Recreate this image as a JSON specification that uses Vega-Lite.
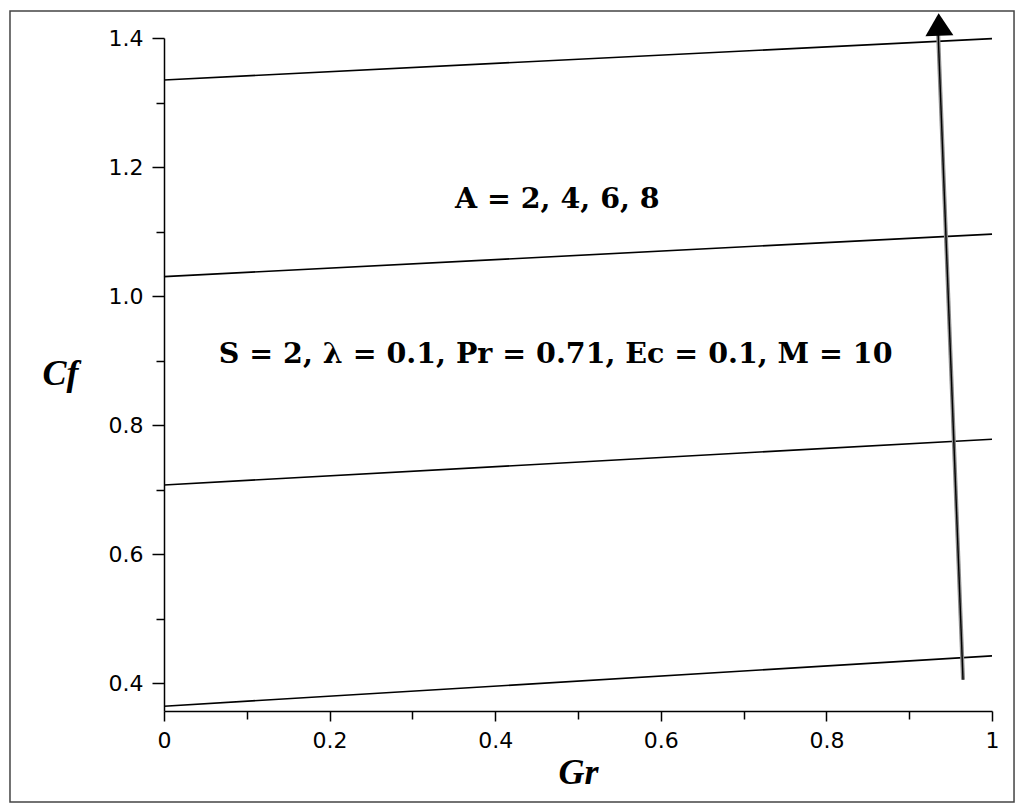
{
  "$schema": "https://vega.github.io/schema/vega-lite/v6.json",
  "description": "Skin friction Cf against Gr for A = 2, 4, 6, 8",
  "width": 828,
  "height": 673,
  "autosize": "none",
  "padding": {"left": 164, "top": 38, "right": 32, "bottom": 100},
  "background": "white",
  "datasets": {
    "curves": [
      {"A": 2, "Gr": 0, "Cf": 0.364},
      {"A": 2, "Gr": 1, "Cf": 0.442},
      {"A": 4, "Gr": 0, "Cf": 0.707},
      {"A": 4, "Gr": 1, "Cf": 0.778},
      {"A": 6, "Gr": 0, "Cf": 1.030},
      {"A": 6, "Gr": 1, "Cf": 1.096},
      {"A": 8, "Gr": 0, "Cf": 1.335},
      {"A": 8, "Gr": 1, "Cf": 1.399}
    ],
    "arrow": [
      {"Gr": 0.965, "Cf": 0.405, "Gr2": 0.935, "Cf2": 1.405}
    ],
    "head": [
      {"Gr": 0.936, "Cf": 1.421}
    ],
    "notes": [
      {"label": "A = 2, 4, 6, 8", "Gr": 0.475, "Cf": 1.150},
      {"label": "S = 2, λ = 0.1, Pr = 0.71, Ec = 0.1, M = 10", "Gr": 0.473, "Cf": 0.910}
    ]
  },
  "layer": [
    {
      "data": {"values": [{}]},
      "mark": {"type": "rect", "fill": "transparent", "stroke": "#444444", "strokeWidth": 1.5, "clip": false},
      "encoding": {
        "x": {"datum": -0.186, "type": "quantitative"},
        "x2": {"datum": 1.0266},
        "y": {"datum": 0.2155, "type": "quantitative"},
        "y2": {"datum": 1.4419}
      }
    },
    {
      "data": {"name": "curves"},
      "mark": {"type": "line", "color": "black", "strokeWidth": 1.6},
      "encoding": {
        "x": {
          "field": "Gr",
          "type": "quantitative",
          "scale": {"domain": [0, 1], "nice": false, "zero": false},
          "axis": {
            "title": "Gr",
            "values": [0, 0.1, 0.2, 0.3, 0.4, 0.5, 0.6, 0.7, 0.8, 0.9, 1],
            "labelExpr": "round(datum.value * 10) % 2 == 0 ? format(datum.value, '~g') : ''",
            "tickSize": {"condition": {"test": "round(datum.value * 10) % 2 == 0", "value": 10}, "value": 8},
            "labelPadding": 9,
            "titleY": 61,
            "titleBaseline": "middle"
          }
        },
        "y": {
          "field": "Cf",
          "type": "quantitative",
          "scale": {"domain": [0.3566, 1.4], "nice": false, "zero": false},
          "axis": {
            "title": "Cf",
            "values": [0.4, 0.5, 0.6, 0.7, 0.8, 0.9, 1.0, 1.1, 1.2, 1.3, 1.4],
            "labelExpr": "round(datum.value * 10) % 2 == 0 ? format(datum.value, '.1f') : ''",
            "tickSize": {"condition": {"test": "round(datum.value * 10) % 2 == 0", "value": 12}, "value": 8},
            "labelPadding": 9,
            "titleAngle": 0,
            "titleX": -104,
            "titleY": 335,
            "titleAlign": "center",
            "titleBaseline": "middle"
          }
        },
        "detail": {"field": "A", "type": "nominal"}
      }
    },
    {
      "data": {"name": "arrow"},
      "mark": {"type": "rule", "color": "#8c8c8c", "strokeWidth": 4, "clip": false},
      "encoding": {
        "x": {"field": "Gr", "type": "quantitative"},
        "y": {"field": "Cf", "type": "quantitative"},
        "x2": {"field": "Gr2"},
        "y2": {"field": "Cf2"}
      }
    },
    {
      "data": {"name": "arrow"},
      "mark": {"type": "rule", "color": "black", "strokeWidth": 1.4, "clip": false},
      "encoding": {
        "x": {"field": "Gr", "type": "quantitative"},
        "y": {"field": "Cf", "type": "quantitative"},
        "x2": {"field": "Gr2"},
        "y2": {"field": "Cf2"}
      }
    },
    {
      "data": {"name": "head"},
      "mark": {
        "type": "point",
        "shape": "M0,-0.8L1,0.8L-1,0.8Z",
        "filled": true,
        "color": "black",
        "opacity": 1,
        "size": 784,
        "angle": -2,
        "clip": false
      },
      "encoding": {
        "x": {"field": "Gr", "type": "quantitative"},
        "y": {"field": "Cf", "type": "quantitative"}
      }
    },
    {
      "data": {"name": "notes"},
      "mark": {
        "type": "text",
        "font": "DejaVu Serif",
        "fontWeight": "bold",
        "fontSize": 28.5,
        "color": "black",
        "align": "center",
        "baseline": "middle"
      },
      "encoding": {
        "x": {"field": "Gr", "type": "quantitative"},
        "y": {"field": "Cf", "type": "quantitative"},
        "text": {"field": "label"}
      }
    }
  ],
  "config": {
    "view": {"stroke": null},
    "axis": {
      "grid": false,
      "domainColor": "black",
      "domainWidth": 1.5,
      "tickColor": "black",
      "tickWidth": 1.5,
      "labelFont": "DejaVu Sans",
      "labelFontSize": 22,
      "labelColor": "black",
      "labelFlush": false,
      "labelOverlap": false,
      "labelBound": false,
      "titleFont": "Liberation Serif",
      "titleFontStyle": "italic",
      "titleFontWeight": "bold",
      "titleFontSize": 36,
      "titleColor": "black"
    }
  }
}
